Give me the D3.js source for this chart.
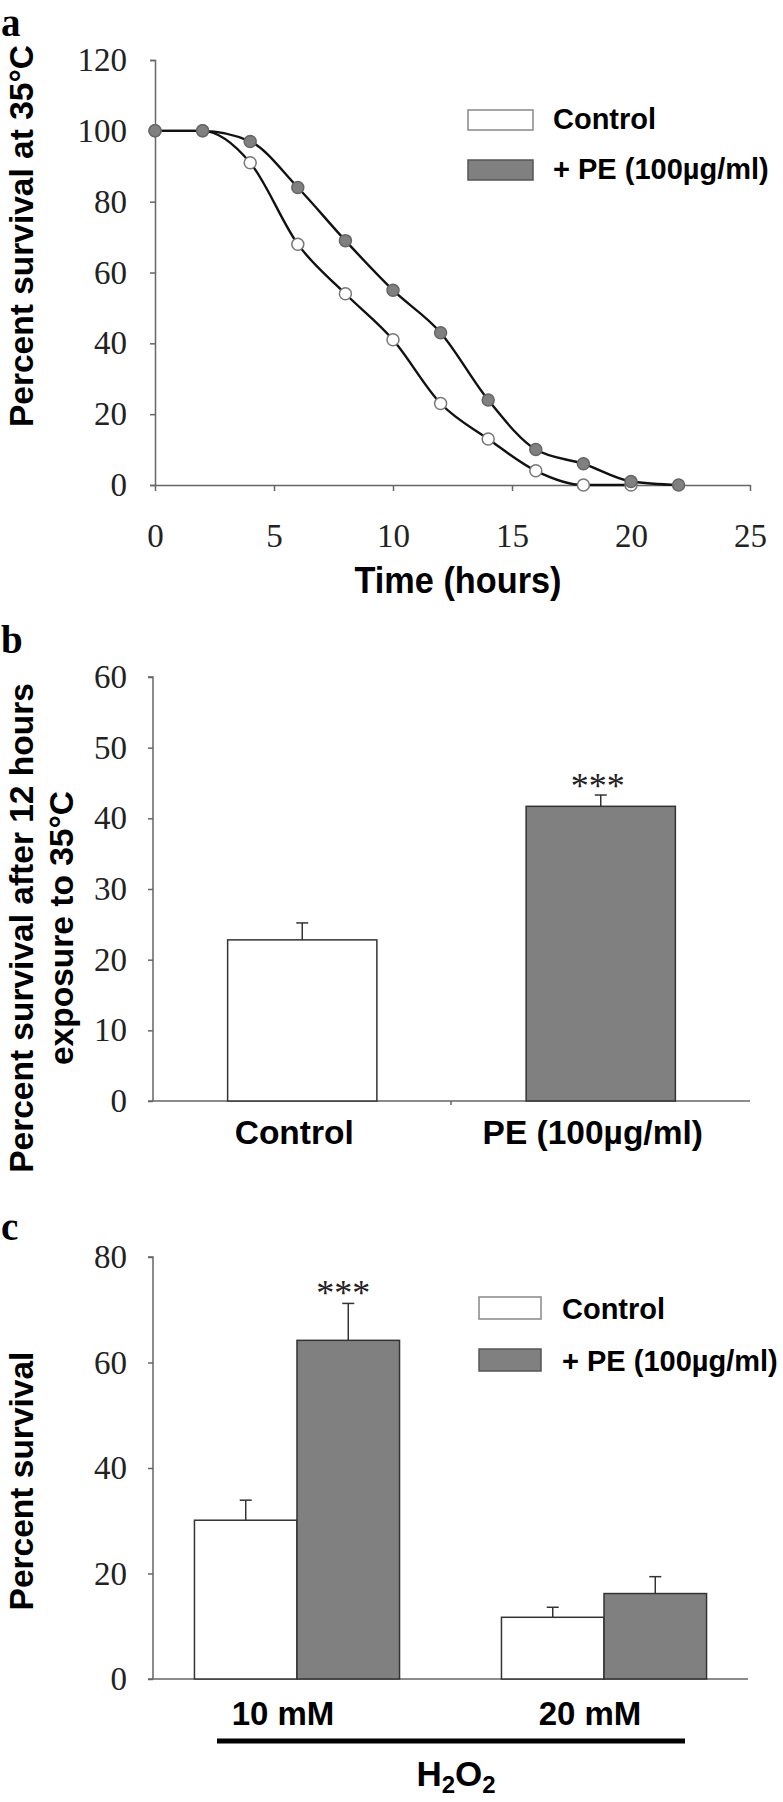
<!DOCTYPE html>
<html><head><meta charset="utf-8">
<script src="https://cdn.jsdelivr.net/npm/d3@7"></script>
<style>
html,body{margin:0;padding:0;background:#fff;}
svg{display:block;}
.tick text{font-family:"Liberation Serif","Times New Roman",serif;font-size:33px;fill:#222;}
.lab{font-family:"Liberation Sans",Arial,sans-serif;font-weight:bold;font-size:33.5px;fill:#000;}
.leg{font-family:"Liberation Sans",Arial,sans-serif;font-weight:bold;font-size:29px;fill:#000;}
.pl{font-family:"Liberation Serif",serif;font-weight:bold;font-size:39px;fill:#000;}
.ast{font-family:"Liberation Serif",serif;font-size:36px;fill:#222;}
</style></head>
<body>
<svg id="c" width="783" height="1802"></svg>
<script>
// Panel a: survival curves
const timeHours = [0,2,4,6,8,10,12,14,16,18,20,22];
const controlSurvival = [100,100,91,68,54,41,23,13,4,0,0,null];
const peSurvival = [100,100,97,84,69,55,43,24,10,6,1,0];
const xTicksA = [0,5,10,15,20,25];
const yTicksA = [0,20,40,60,80,100,120];
// Panel b: 12 h survival
const catsB = ["Control","PE (100µg/ml)"];
const valsB = [22.8,41.7];
const errB = [2.4,1.6];
const yTicksB = [0,10,20,30,40,50,60];
// Panel c: H2O2
const groupsC = ["10 mM","20 mM"];
const seriesC = ["Control","+ PE (100µg/ml)"];
const controlC = [30.1,11.7];
const peC = [64.2,16.2];
const controlErrC = [3.8,1.9];
const peErrC = [7.0,3.2];
const yTicksC = [0,20,40,60,80];

const svg = d3.select("#c");
const AX = "#666";
const GREY = "#808080";
const fills = ["#ffffff", GREY];

function styleAxis(g){
  g.selectAll(".domain").attr("stroke",AX).attr("stroke-width",1.5);
  g.selectAll(".tick line").attr("stroke",AX).attr("stroke-width",1.5);
}

// ---------- Panel a ----------
{
  const x = d3.scaleLinear().domain([0,25]).range([155,750]);
  const y = d3.scaleLinear().domain([0,120]).range([485,60]);
  const gy = svg.append("g").attr("transform","translate(155,0)")
    .call(d3.axisLeft(y).tickValues(yTicksA).tickSize(5).tickSizeOuter(5).tickPadding(23));
  styleAxis(gy);
  const gx = svg.append("g").attr("transform","translate(0,485)")
    .call(d3.axisBottom(x).tickValues(xTicksA).tickSize(6).tickSizeOuter(0).tickPadding(14));
  styleAxis(gx);
  gx.selectAll(".tick text").attr("y",62).attr("dy",0);

  const series = [
    {vals: controlSurvival, fill:"#fff", stroke:"#777"},
    {vals: peSurvival, fill: GREY, stroke:"#666"}
  ];
  const line = d3.line().defined(d=>d[1]!=null).x(d=>x(d[0])).y(d=>y(d[1])).curve(d3.curveMonotoneX);
  series.forEach(s=>{
    const pts = timeHours.map((t,i)=>[t,s.vals[i]]);
    svg.append("path").attr("d",line(pts)).attr("fill","none").attr("stroke","#111").attr("stroke-width",2.4);
  });
  series.forEach(s=>{
    const pts = timeHours.map((t,i)=>[t,s.vals[i]]).filter(d=>d[1]!=null);
    svg.append("g").selectAll("circle").data(pts).join("circle")
      .attr("cx",d=>x(d[0])).attr("cy",d=>y(d[1])).attr("r",6)
      .attr("fill",s.fill).attr("stroke",s.stroke).attr("stroke-width",1.5);
  });
  svg.append("text").attr("class","lab").attr("x",458).attr("y",593).attr("text-anchor","middle")
    .style("font-size","36px").attr("textLength",207).attr("lengthAdjust","spacingAndGlyphs").text("Time (hours)");
  svg.append("text").attr("class","lab").attr("transform",`translate(33,236) rotate(-90)`).attr("text-anchor","middle").text("Percent survival at 35°C");
  svg.append("text").attr("class","pl").attr("x",1).attr("y",36).text("a");
  ["Control","+ PE (100µg/ml)"].forEach((t,i)=>{
    svg.append("rect").attr("x",468).attr("y",110+i*50).attr("width",65).attr("height",20)
      .attr("fill",fills[i]).attr("stroke",i?"#555":"#888").attr("stroke-width",1.5);
    svg.append("text").attr("class","leg").attr("x",553).attr("y",129+i*50).text(t);
  });
}

// ---------- Panel b ----------
{
  const y = d3.scaleLinear().domain([0,60]).range([1101,677]);
  const x = d3.scaleBand().domain(catsB).range([153,750]).paddingInner(0.5).paddingOuter(0.25);
  const gy = svg.append("g").attr("transform","translate(153,0)")
    .call(d3.axisLeft(y).tickValues(yTicksB).tickSize(5).tickSizeOuter(5).tickPadding(21));
  styleAxis(gy);
  gy.select(".domain").attr("d","M-5,677H0V1101");
  svg.append("line").attr("x1",148).attr("x2",750).attr("y1",1101).attr("y2",1101).attr("stroke",AX).attr("stroke-width",1.5);
  svg.append("line").attr("x1",451).attr("x2",451).attr("y1",1101).attr("y2",1105).attr("stroke",AX).attr("stroke-width",1.5);
  catsB.forEach((c,i)=>{
    const bx = x(c), bw = x.bandwidth(), cx = bx+bw/2;
    svg.append("line").attr("x1",cx).attr("x2",cx).attr("y1",y(valsB[i])).attr("y2",y(valsB[i]+errB[i])).attr("stroke","#333").attr("stroke-width",1.5);
    svg.append("line").attr("x1",cx-6).attr("x2",cx+6).attr("y1",y(valsB[i]+errB[i])).attr("y2",y(valsB[i]+errB[i])).attr("stroke","#333").attr("stroke-width",1.5);
    svg.append("rect").attr("x",bx).attr("y",y(valsB[i])).attr("width",bw).attr("height",y(0)-y(valsB[i]))
      .attr("fill",fills[i]).attr("stroke","#333").attr("stroke-width",1.5);
    svg.append("text").attr("class","lab").attr("x",cx-8).attr("y",1144).attr("text-anchor","middle").text(c);
  });
  svg.append("text").attr("class","ast").attr("x",x(catsB[1])+x.bandwidth()/2-3).attr("y",y(valsB[1]+errB[1])+3)
    .attr("text-anchor","middle").text("***");
  svg.append("text").attr("class","lab").attr("transform",`translate(33,928) rotate(-90)`).attr("text-anchor","middle").text("Percent survival after 12 hours");
  svg.append("text").attr("class","lab").attr("transform",`translate(73,928) rotate(-90)`).attr("text-anchor","middle").text("exposure to 35°C");
  svg.append("text").attr("class","pl").attr("x",1).attr("y",653).text("b");
}

// ---------- Panel c ----------
{
  const y = d3.scaleLinear().domain([0,80]).range([1679,1257]);
  const x0 = d3.scaleBand().domain(groupsC).range([153,748]).paddingInner(0.332).paddingOuter(0.135);
  const x1 = d3.scaleBand().domain(seriesC).range([0,x0.bandwidth()]);
  const gy = svg.append("g").attr("transform","translate(153,0)")
    .call(d3.axisLeft(y).tickValues(yTicksC).tickSize(5).tickSizeOuter(5).tickPadding(21));
  styleAxis(gy);
  gy.select(".domain").attr("d","M-5,1257H0V1679");
  svg.append("line").attr("x1",148).attr("x2",748).attr("y1",1679).attr("y2",1679).attr("stroke",AX).attr("stroke-width",1.5);
  const vals = [controlC, peC], errs = [controlErrC, peErrC];
  groupsC.forEach((g,gi)=>{
    seriesC.forEach((s,si)=>{
      const v = vals[si][gi], e = errs[si][gi];
      const bx = x0(g)+x1(s), bw = x1.bandwidth(), cx = bx+bw/2;
      svg.append("line").attr("x1",cx).attr("x2",cx).attr("y1",y(v)).attr("y2",y(v+e)).attr("stroke","#333").attr("stroke-width",1.5);
      svg.append("line").attr("x1",cx-6).attr("x2",cx+6).attr("y1",y(v+e)).attr("y2",y(v+e)).attr("stroke","#333").attr("stroke-width",1.5);
      svg.append("rect").attr("x",bx).attr("y",y(v)).attr("width",bw).attr("height",y(0)-y(v))
        .attr("fill",fills[si]).attr("stroke","#333").attr("stroke-width",1.5);
    });
    svg.append("text").attr("class","lab").style("font-size","33px").attr("x",x0(g)+x0.bandwidth()/2-14).attr("y",1725).attr("text-anchor","middle").text(g);
  });
  const pex = x0(groupsC[0])+x1(seriesC[1])+x1.bandwidth()/2;
  svg.append("text").attr("class","ast").attr("x",pex-5).attr("y",y(peC[0]+peErrC[0])+2)
    .attr("text-anchor","middle").text("***");
  svg.append("line").attr("x1",217).attr("x2",685).attr("y1",1741).attr("y2",1741).attr("stroke","#000").attr("stroke-width",5);
  const h = svg.append("text").attr("class","lab").style("font-size","35px").attr("x",456).attr("y",1786).attr("text-anchor","middle");
  h.append("tspan").text("H");
  h.append("tspan").attr("dy",7).style("font-size","24px").text("2");
  h.append("tspan").attr("dy",-7).text("O");
  h.append("tspan").attr("dy",7).style("font-size","24px").text("2");
  svg.append("text").attr("class","lab").attr("transform",`translate(33,1481) rotate(-90)`).attr("text-anchor","middle").text("Percent survival");
  svg.append("text").attr("class","pl").attr("x",1).attr("y",1240).text("c");
  seriesC.forEach((t,i)=>{
    svg.append("rect").attr("x",479).attr("y",1297+i*52).attr("width",62).attr("height",22)
      .attr("fill",fills[i]).attr("stroke",i?"#555":"#888").attr("stroke-width",1.5);
    svg.append("text").attr("class","leg").attr("x",562).attr("y",1319+i*52).text(t);
  });
}
</script>
</body></html>
